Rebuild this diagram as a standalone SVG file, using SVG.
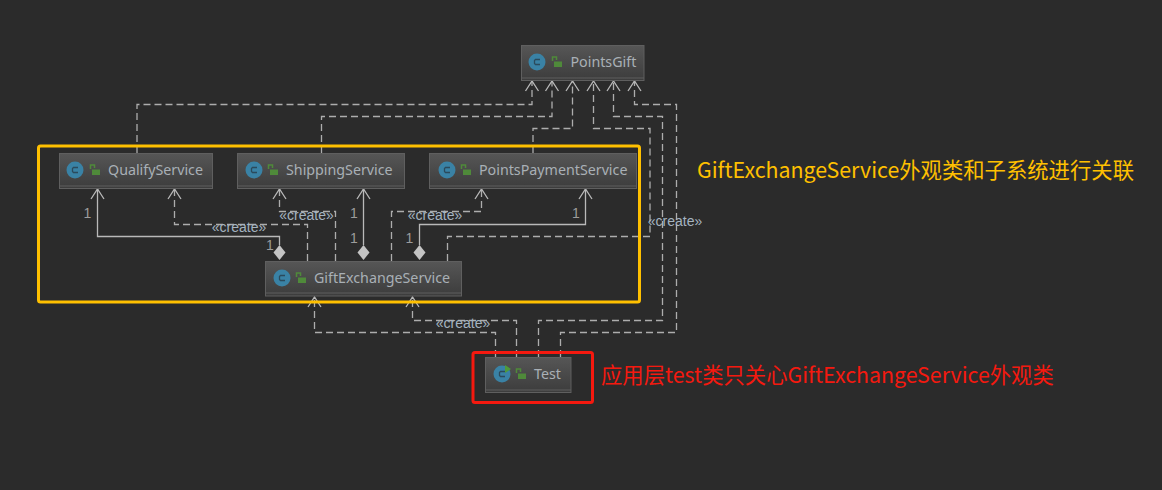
<svg xmlns="http://www.w3.org/2000/svg" width="1162" height="490" viewBox="0 0 1162 490">
<defs>
<linearGradient id="nodeFill" x1="0" y1="0" x2="0" y2="1"><stop offset="0" stop-color="#565656"/><stop offset="1" stop-color="#3c3c3c"/></linearGradient>
<g id="cicon"><circle cx="0" cy="0" r="8.500" fill="#3a82a5"/><path d="M3 -2.500H-1.500L-2.500 -1.500V1.500L-1.500 2.500H3" fill="none" stroke="#2b4a5c" stroke-width="1.300"/></g>
<g id="lock"><path d="M-4.500 -1V-5H-0.500V-2" fill="none" stroke="#4f8a3a" stroke-width="1.500"/><rect x="-3" y="-0.500" width="8" height="5.500" fill="#4f8a3a"/></g>
</defs>
<style>
.bg{fill:#2b2b2b}
.box{fill:url(#nodeFill);stroke:#5f5f5f;stroke-width:1}
.rule{stroke:#5f5f5f;stroke-width:1}
.name{font:14.250px "Noto Sans","Liberation Sans",sans-serif;fill:#a9b0b6}
.dash{fill:none;stroke:#adadad;stroke-width:1.300;stroke-dasharray:7 4}
.solid{fill:none;stroke:#b9b9b9;stroke-width:1.300}
.arr{fill:none;stroke:#b9b9b9;stroke-width:1.300}
.dia{fill:#c4c4c4}
.lab{font:14px "Liberation Sans",sans-serif;fill:#9c9c9c;text-anchor:middle}
.cr{font:14px "Liberation Sans",sans-serif;fill:#a5b4c0;text-anchor:middle}
.note{font:21.350px "Noto Sans CJK SC","Noto Sans",sans-serif}
</style>
<rect class="bg" width="1162" height="490"/>
<g id="connectors">
<path class="dash" d="M137 153V104.500H532V81"/>
<path class="dash" d="M321.500 153V116.500H552V81"/>
<path class="dash" d="M533 153V128.500H572.500V81"/>
<path class="dash" d="M447.500 261V236.500H650V128.500H593.500V81"/>
<path class="dash" d="M538.500 357V320.500H662.500V116.500H613.500V81"/>
<path class="dash" d="M560.500 357V332.500H676.500V104.500H634.500V81"/>
<path class="dash" d="M307.500 261V224.500H174.500V189"/>
<path class="dash" d="M335.500 261V211.500H279.500V189"/>
<path class="dash" d="M391.500 261V211.500H481.500V189"/>
<path class="dash" d="M495.500 357V332.500H314.500V297"/>
<path class="dash" d="M516.500 357V320.500H412.500V297"/>
<path class="solid" d="M279.500 245V236.500H97.500V189"/>
<path class="solid" d="M363.500 245V189"/>
<path class="solid" d="M419.500 245V224.500H585.500V189"/>
<path class="arr" d="M525.500 91 532 81 538.500 91M545.500 91 552 81 558.500 91M566 91 572.500 81 579 91M587 91 593.500 81 600 91M607 91 613.500 81 620 91M628 91 634.500 81 641 91M91 199 97.500 189 104 199M168 199 174.500 189 181 199M273 199 279.500 189 286 199M357 199 363.500 189 370 199M475 199 481.500 189 488 199M579 199 585.500 189 592 199M308 307 314.500 297 321 307M406 307 412.500 297 419 307"/>
<path class="dia" d="M279.500 245 285.500 252.500 279.500 260 273.500 252.500Z"/>
<path class="dia" d="M363.500 245 369.500 252.500 363.500 260 357.500 252.500Z"/>
<path class="dia" d="M419.500 245 425.500 252.500 419.500 260 413.500 252.500Z"/>
<text class="lab" x="87.500" y="218">1</text>
<text class="lab" x="270" y="250">1</text>
<text class="lab" x="354" y="218">1</text>
<text class="lab" x="354" y="243">1</text>
<text class="lab" x="576" y="218">1</text>
<text class="lab" x="409.500" y="243">1</text>
<text class="cr" x="239" y="232">«create»</text>
<text class="cr" x="306.500" y="220">«create»</text>
<text class="cr" x="435" y="220">«create»</text>
<text class="cr" x="675" y="226">«create»</text>
<text class="cr" x="463" y="328">«create»</text>
</g>
<g id="PointsGift"><rect class="box" x="521.500" y="45.500" width="122.500" height="35"/><path class="rule" d="M522 78H644"/><use href="#cicon" x="537" y="62"/><use href="#lock" x="557" y="62"/><text class="name" x="570.500" y="67">PointsGift</text></g>
<g id="QualifyService"><rect class="box" x="59.500" y="153.500" width="153" height="35"/><path class="rule" d="M60 186H212"/><use href="#cicon" x="75" y="170"/><use href="#lock" x="95" y="170"/><text class="name" x="108" y="175">QualifyService</text></g>
<g id="ShippingService"><rect class="box" x="237.500" y="153.500" width="167" height="35"/><path class="rule" d="M238 186H404"/><use href="#cicon" x="254" y="170"/><use href="#lock" x="273" y="170"/><text class="name" x="286" y="175">ShippingService</text></g>
<g id="PointsPaymentService"><rect class="box" x="429.500" y="153.500" width="207" height="35"/><path class="rule" d="M430 186H636"/><use href="#cicon" x="447" y="170"/><use href="#lock" x="466" y="170"/><text class="name" x="479" y="175">PointsPaymentService</text></g>
<g id="GiftExchangeService"><rect class="box" x="265.500" y="261.500" width="196" height="34.500"/><path class="rule" d="M266 293H461"/><use href="#cicon" x="282" y="278"/><use href="#lock" x="301" y="278"/><text class="name" x="314" y="283">GiftExchangeService</text></g>
<g id="Test"><rect class="box" x="485.500" y="357.500" width="85.500" height="35"/><path class="rule" d="M486 390H571"/><use href="#cicon" x="502" y="374"/><path d="M505 365 511 369 505 373Z" fill="#4f9a3a"/><use href="#lock" x="521" y="374"/><text class="name" x="534" y="379">Test</text></g>
<rect x="38.500" y="146" width="601" height="156" rx="2" fill="none" stroke="#ffc000" stroke-width="3"/>
<rect x="473" y="352.500" width="119.500" height="50" rx="2" fill="none" stroke="#f5190f" stroke-width="3"/>
<text class="note" x="697" y="177.500" fill="#ffc000">GiftExchangeService外观类和子系统进行关联</text>
<text class="note" x="601" y="382.500" fill="#f5190f">应用层test类只关心GiftExchangeService外观类</text>
</svg>
